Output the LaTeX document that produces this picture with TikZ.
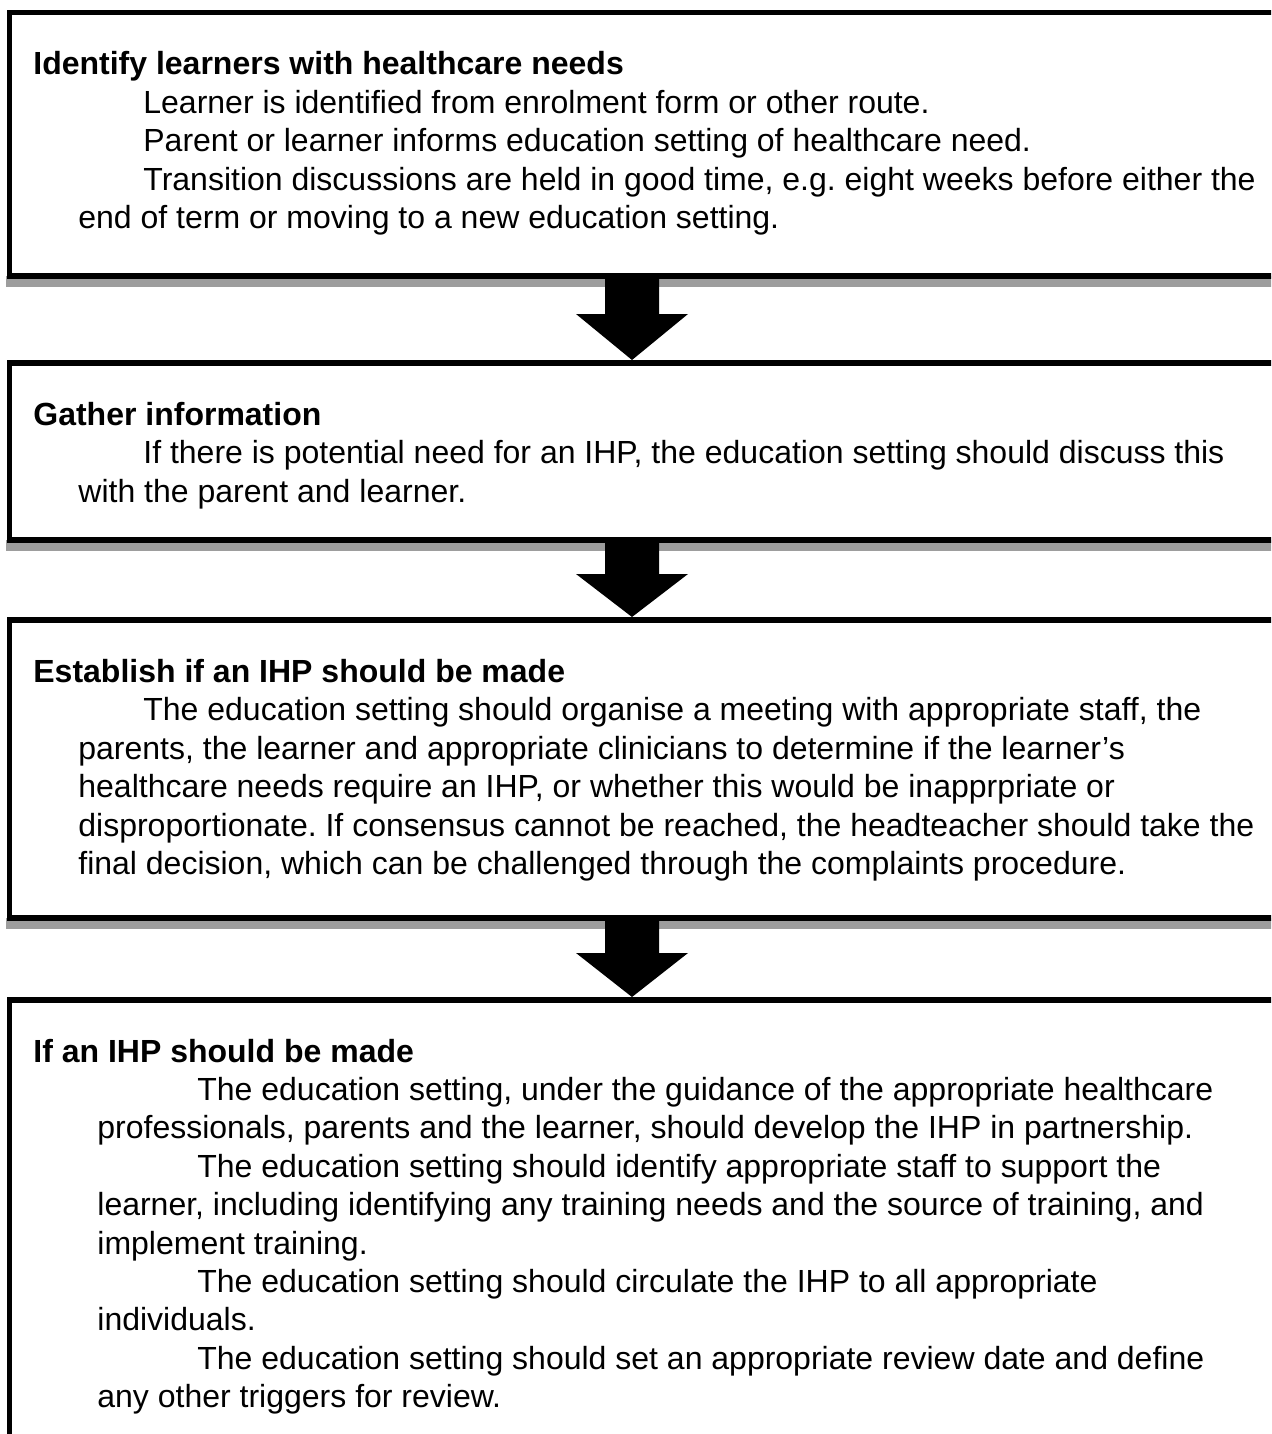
\documentclass[tikz,border=0pt]{standalone}
\usepackage{fontspec}
\setmainfont{Liberation Sans}
\usepackage{tikz}
\usetikzlibrary{positioning,calc}
\definecolor{shadowgray}{HTML}{9D9D9D}
\frenchspacing

\begin{document}
\begin{tikzpicture}[x=0.5pt,y=-0.5pt]
\tikzstyle{stepbox}=[draw=black,line width=2.75pt,fill=white,outer sep=0pt,inner sep=0pt,anchor=north west,minimum width=645pt]
\tikzstyle{steptext}=[anchor=base west,inner sep=0pt,font=\fontsize{16}{19.2}\selectfont]
\clip (0,0) rectangle (1271,1434);
% boxes
\fill [shadowgray] (6,276) rectangle (1300,287);
\node (b1) [stepbox,minimum height=131.75pt] at (9.5,12.5) {};
\fill [shadowgray] (6,540) rectangle (1300,551);
\node (b2) [stepbox,minimum height=88.5pt] at (9.5,363) {};
\fill [shadowgray] (6,918) rectangle (1300,929);
\node (b3) [stepbox,minimum height=149pt] at (9.5,620) {};
\node (b4) [stepbox,minimum height=250pt] at (9.5,1000) {};
% texts
\node (t1) [steptext] at (33,75) {\parbox[t]{630pt}{\textbf{Identify learners with healthcare needs}\\
\hspace*{55pt}Learner is identified from enrolment form or other route.\\
\hspace*{55pt}Parent or learner informs education setting of healthcare need.\\
\hspace*{55pt}Transition discussions are held in good time, e.g. eight weeks before either the\\
\hspace*{22.5pt}end of term or moving to a new education setting.}};
\node (t2) [steptext] at (33,425.5) {\parbox[t]{630pt}{\textbf{Gather information}\\
\hspace*{55pt}If there is potential need for an IHP, the education setting should discuss this\\
\hspace*{22.5pt}with the parent and learner.}};
\node (t3) [steptext] at (33,682.5) {\parbox[t]{630pt}{\textbf{Establish if an IHP should be made}\\
\hspace*{55pt}The education setting should organise a meeting with appropriate staff, the\\
\hspace*{22.5pt}parents, the learner and appropriate clinicians to determine if the learner’s\\
\hspace*{22.5pt}healthcare needs require an IHP, or whether this would be inapprpriate or\\
\hspace*{22.5pt}disproportionate. If consensus cannot be reached, the headteacher should take the\\
\hspace*{22.5pt}final decision, which can be challenged through the complaints procedure.}};
\node (t4) [steptext] at (33,1062) {\parbox[t]{630pt}{\textbf{If an IHP should be made}\\
\hspace*{82pt}The education setting, under the guidance of the appropriate healthcare\\
\hspace*{32pt}professionals, parents and the learner, should develop the IHP in partnership.\\
\hspace*{82pt}The education setting should identify appropriate staff to support the\\
\hspace*{32pt}learner, including identifying any training needs and the source of training, and\\
\hspace*{32pt}implement training.\\
\hspace*{82pt}The education setting should circulate the IHP to all appropriate\\
\hspace*{32pt}individuals.\\
\hspace*{82pt}The education setting should set an appropriate review date and define\\
\hspace*{32pt}any other triggers for review.}};
% block arrows
\coordinate (ax) at (632,0);
\fill [black] ($(ax |- b1.south)+(-27,0)$) -- ($(ax |- b2.north)+(-27,-49)$) -- ($(ax |- b2.north)+(-56,-49)$) -- ($(ax |- b2.north)+(0,-3)$) -- ($(ax |- b2.north)+(56,-49)$) -- ($(ax |- b2.north)+(27,-49)$) -- ($(ax |- b1.south)+(27,0)$) -- cycle;
\fill [black] ($(ax |- b2.south)+(-27,0)$) -- ($(ax |- b3.north)+(-27,-46)$) -- ($(ax |- b3.north)+(-56,-46)$) -- ($(ax |- b3.north)+(0,-3)$) -- ($(ax |- b3.north)+(56,-46)$) -- ($(ax |- b3.north)+(27,-46)$) -- ($(ax |- b2.south)+(27,0)$) -- cycle;
\fill [black] ($(ax |- b3.south)+(-27,0)$) -- ($(ax |- b4.north)+(-27,-47)$) -- ($(ax |- b4.north)+(-56,-47)$) -- ($(ax |- b4.north)+(0,-3)$) -- ($(ax |- b4.north)+(56,-47)$) -- ($(ax |- b4.north)+(27,-47)$) -- ($(ax |- b3.south)+(27,0)$) -- cycle;
\end{tikzpicture}
\end{document}
